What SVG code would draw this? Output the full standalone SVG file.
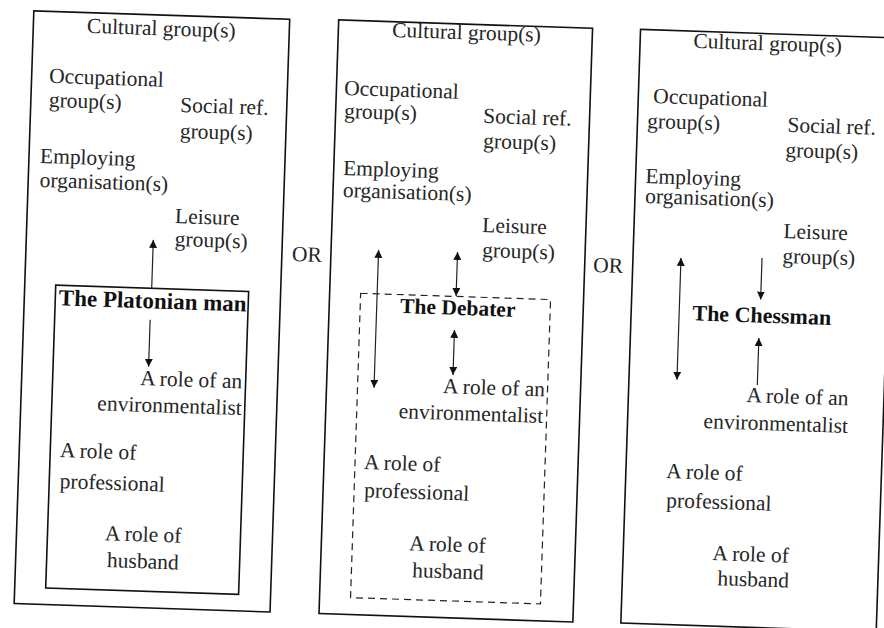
<svg xmlns="http://www.w3.org/2000/svg" width="884" height="628" viewBox="0 0 884 628">
<style>
  text { font-family: 'Liberation Serif', 'DejaVu Serif', serif; font-size: 21.5px; fill: #262626; }
  .b { font-weight: bold; font-size: 22px; fill: #111; }
  .e { text-anchor: end; }
  .box { fill: none; stroke: #111; stroke-width: 1.6; }
  .inner { fill: none; stroke: #111; stroke-width: 1.6; }
  .dash { fill: none; stroke: #222; stroke-width: 1.2; stroke-dasharray: 7 5; }
  .arr { stroke: #222; stroke-width: 1.2; fill: none; }
</style>
<defs>
  <marker id="ah" viewBox="0 0 10 10" refX="10" refY="5" markerWidth="8" markerHeight="8" markerUnits="userSpaceOnUse" orient="auto-start-reverse">
    <path d="M0,0 L10,5 L0,10 z" fill="#111"/>
  </marker>
</defs>
<rect width="884" height="628" fill="#fff"/>
<g transform="rotate(1.9 442 314)" font-family="Liberation Serif, serif">
  <g id="panel-platonian">
    <rect class="box" x="24" y="24.5" width="256" height="593"/>
    <text x="77.7" y="44.8">Cultural group(s)</text>
    <text x="41.5" y="96">Occupational</text>
    <text x="42" y="120">group(s)</text>
    <text x="173.5" y="120.7">Social ref.</text>
    <text x="174" y="146.7">group(s)</text>
    <text x="35" y="176.3">Employing</text>
    <text x="35.5" y="200.3">organisation(s)</text>
    <text x="172" y="231.9">Leisure</text>
    <text x="172.5" y="254.9">group(s)</text>
    <g id="node-platonian">
      <rect class="inner" x="55" y="298" width="193" height="303"/>
      <text class="b" x="58.5" y="318" style="font-size:23px">The Platonian man</text>
      <text class="e" x="244.5" y="395">A role of an</text>
      <text class="e" x="245" y="421.6">environmentalist</text>
      <text x="64.7" y="469.7">A role of</text>
      <text x="65.5" y="500.7">professional</text>
      <text x="112.5" y="551.2">A role of</text>
      <text x="115.4" y="578.1">husband</text>
    </g>
  </g>
  <text id="or-1" x="290" y="266">OR</text>
  <g id="panel-debater">
    <rect class="box" x="329" y="23.5" width="254" height="594"/>
    <text x="382.8" y="38.7">Cultural group(s)</text>
    <text x="336.7" y="98.3">Occupational</text>
    <text x="337.5" y="121.3">group(s)</text>
    <text x="476.7" y="121.6">Social ref.</text>
    <text x="477.5" y="146.6">group(s)</text>
    <text x="338.4" y="178.3">Employing</text>
    <text x="339" y="200.3">organisation(s)</text>
    <text x="479.3" y="230.7">Leisure</text>
    <text x="480" y="255.7">group(s)</text>
    <g id="node-debater">
      <rect class="dash" x="360" y="296" width="190" height="304.5"/>
      <text class="b" x="400" y="314.4" style="font-size:21.5px">The Debater</text>
      <text class="e" x="547.5" y="393">A role of an</text>
      <text class="e" x="546.5" y="419.5">environmentalist</text>
      <text x="369" y="471.6">A role of</text>
      <text x="370" y="499.6">professional</text>
      <text x="416.8" y="551.1">A role of</text>
      <text x="420.7" y="578">husband</text>
    </g>
  </g>
  <text id="or-2" x="591.6" y="267">OR</text>
  <g id="panel-chessman">
    <rect class="box" x="631" y="23" width="255.5" height="594"/>
    <text x="684.2" y="39.7">Cultural group(s)</text>
    <text x="646" y="96">Occupational</text>
    <text x="640.8" y="121.2">group(s)</text>
    <text x="781" y="120.5">Social ref.</text>
    <text x="779.8" y="145.6">group(s)</text>
    <text x="640.7" y="176.3">Employing</text>
    <text x="641.3" y="196.3">organisation(s)</text>
    <text x="780.5" y="226.7">Leisure</text>
    <text x="780.3" y="251.7">group(s)</text>
    <g id="node-chessman">
      <text class="b" x="692.3" y="312">The Chessman</text>
      <text class="e" x="851" y="391.9">A role of an</text>
      <text class="e" x="851.5" y="419.4">environmentalist</text>
      <text x="671.4" y="470.6">A role of</text>
      <text x="672.4" y="499.6">professional</text>
      <text x="720.2" y="551">A role of</text>
      <text x="726" y="575.9">husband</text>
    </g>
  </g>
  <g id="connectors">
    <line class="arr" x1="151" y1="298" x2="151" y2="249.5" marker-end="url(#ah)"/>
    <line class="arr" x1="150.5" y1="329.5" x2="150.5" y2="376.5" marker-end="url(#ah)"/>
    <line class="arr" x1="376.5" y1="252" x2="376.5" y2="390" marker-start="url(#ah)" marker-end="url(#ah)"/>
    <line class="arr" x1="455.5" y1="251.5" x2="455.5" y2="295.5" marker-start="url(#ah)" marker-end="url(#ah)"/>
    <line class="arr" x1="455" y1="329.5" x2="455" y2="374.5" marker-start="url(#ah)" marker-end="url(#ah)"/>
    <line class="arr" x1="679" y1="250" x2="679" y2="372" marker-start="url(#ah)" marker-end="url(#ah)"/>
    <line class="arr" x1="760" y1="247.5" x2="760" y2="289" marker-end="url(#ah)"/>
    <line class="arr" x1="759.5" y1="374.5" x2="759.5" y2="327.5" marker-end="url(#ah)"/>
  </g>
</g>
</svg>
